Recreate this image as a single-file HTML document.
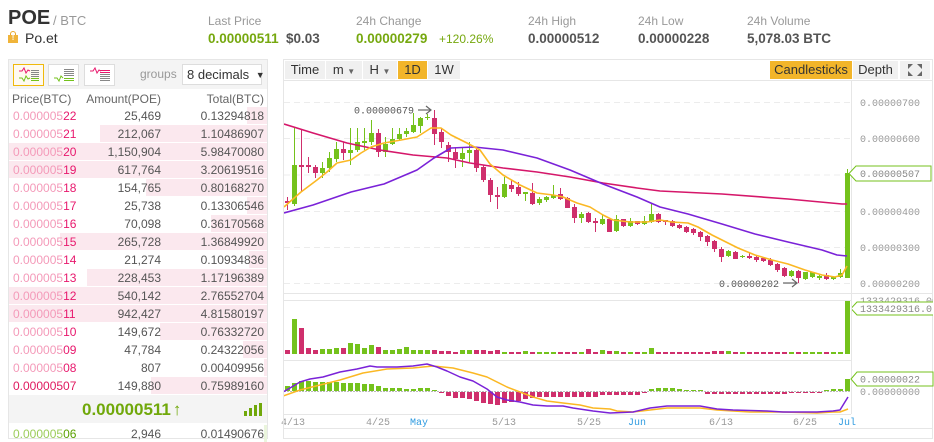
<!DOCTYPE html>
<html><head><meta charset="utf-8">
<style>
*{margin:0;padding:0;box-sizing:border-box}
body{width:934px;height:435px;overflow:hidden;background:#fff;font-family:"Liberation Sans",Arial,sans-serif;position:relative;color:#333}
.a{position:absolute;white-space:nowrap;line-height:1}
.lbl{font-size:12px;color:#999}
.val{font-size:13.5px;font-weight:bold;color:#555}
.gr{color:#76a80f}
.row{position:absolute;left:9px;width:258px;height:17px}
.row .bg{position:absolute;top:0;bottom:0;right:0;background:#fbe8ee}
.row span{position:absolute;top:3px;font-size:12px;line-height:1;white-space:nowrap}
.p{left:4px;color:#f49ab9}
.p b{font-weight:normal;color:#e8186d}
.am{right:106px;color:#555}
.tt{right:3px;color:#555}
.btn{position:absolute;top:61px;height:18px;line-height:18px;font-size:13px;text-align:center;background:#f0f0f0;color:#333}
.yl{background:#f2b52a}
</style></head><body>

<!-- header -->
<div class="a" style="left:8px;top:8px;font-size:20px;font-weight:bold;color:#333">POE</div>
<div class="a" style="left:53px;top:14px;font-size:13px;color:#999">/ BTC</div>
<div class="a" style="left:8px;top:31px;width:10px;height:12px">
  <div style="position:absolute;left:2px;top:0;width:6px;height:5px;border:1.5px solid #e9a82a;border-bottom:none;border-radius:3px 3px 0 0"></div>
  <div style="position:absolute;left:0;top:4px;width:10px;height:8px;background:#f0b43a;color:#fff;font-size:7px;font-weight:bold;text-align:center;line-height:8px">!</div>
</div>
<div class="a" style="left:25px;top:31px;font-size:14px;color:#333">Po.et</div>

<div class="a lbl" style="left:208px;top:15px">Last Price</div>
<div class="a val gr" style="left:208px;top:31.6px">0.00000511</div>
<div class="a val" style="left:286px;top:31.6px">$0.03</div>

<div class="a lbl" style="left:356px;top:15px">24h Change</div>
<div class="a val gr" style="left:356px;top:31.6px">0.00000279</div>
<div class="a gr" style="left:439px;top:32.8px;font-size:12px">+120.26%</div>

<div class="a lbl" style="left:528px;top:15px">24h High</div>
<div class="a val" style="left:528px;top:31.6px">0.00000512</div>
<div class="a lbl" style="left:638px;top:15px">24h Low</div>
<div class="a val" style="left:638px;top:31.6px">0.00000228</div>
<div class="a lbl" style="left:747px;top:15px">24h Volume</div>
<div class="a val" style="left:747px;top:31.6px">5,078.03 BTC</div>

<!-- left panel -->
<div style="position:absolute;left:8px;top:59px;width:260px;height:380px;border:1px solid #e6e6e6"></div>
<div style="position:absolute;left:9px;top:60px;width:258px;height:29px;background:#f4f4f4"></div>
<svg style="position:absolute;left:0;top:0" width="280" height="90">
  <rect x="13.5" y="64.5" width="30" height="21" fill="#fffaf0" stroke="#f0b90b"/>
  <rect x="48.5" y="64.5" width="30" height="21" fill="#fff" stroke="#ddd"/>
  <rect x="84.5" y="64.5" width="30" height="21" fill="#fff" stroke="#ddd"/>
  <g stroke-width="1">
    <polyline points="19,71 22,71 24,68 26,73 28,70 30,71" fill="none" stroke="#e8186d"/>
    <line x1="31" y1="70.5" x2="39" y2="70.5" stroke="#888"/><line x1="31" y1="72.5" x2="39" y2="72.5" stroke="#888"/>
    <line x1="31" y1="74.5" x2="39" y2="74.5" stroke="#888"/><line x1="31" y1="76.5" x2="39" y2="76.5" stroke="#888"/>
    <polyline points="19,78 22,78 24,81 26,76 28,79 30,78" fill="none" stroke="#74c21c"/>
    <line x1="31" y1="78.5" x2="39" y2="78.5" stroke="#74c21c"/><line x1="31" y1="80.5" x2="39" y2="80.5" stroke="#74c21c"/>

    <line x1="64" y1="69.5" x2="74" y2="69.5" stroke="#888"/><line x1="64" y1="71.5" x2="74" y2="71.5" stroke="#888"/>
    <line x1="64" y1="73.5" x2="74" y2="73.5" stroke="#888"/><line x1="64" y1="75.5" x2="74" y2="75.5" stroke="#888"/>
    <polyline points="54,78 57,78 59,81 61,76 63,78" fill="none" stroke="#74c21c"/>
    <line x1="64" y1="78.5" x2="74" y2="78.5" stroke="#74c21c"/><line x1="64" y1="80.5" x2="74" y2="80.5" stroke="#74c21c"/>

    <polyline points="90,71 93,71 95,68 97,73 99,70 101,71" fill="none" stroke="#e8186d"/>
    <line x1="100" y1="70.5" x2="110" y2="70.5" stroke="#e8186d"/><line x1="100" y1="72.5" x2="110" y2="72.5" stroke="#e8186d"/>
    <line x1="100" y1="74.5" x2="110" y2="74.5" stroke="#888"/><line x1="100" y1="76.5" x2="110" y2="76.5" stroke="#888"/>
    <line x1="100" y1="78.5" x2="110" y2="78.5" stroke="#888"/><line x1="100" y1="80.5" x2="110" y2="80.5" stroke="#888"/>
  </g>
</svg>
<div class="a" style="left:140px;top:68px;font-size:12px;color:#999">groups</div>
<div class="a" style="left:182px;top:64px;width:80px;height:21px;background:#fff;border:1px solid #ddd;font-size:13px;color:#333;line-height:19px;padding-left:4px">8 decimals <span style="font-size:9px;position:relative;top:-1px;margin-left:3px">▼</span></div>

<div class="a" style="left:12px;top:93px;font-size:12px;color:#666">Price(BTC)</div>
<div class="a" style="right:773px;top:93px;font-size:12px;color:#666">Amount(POE)</div>
<div class="a" style="right:670px;top:93px;font-size:12px;color:#666">Total(BTC)</div>

<div class="row" style="top:107px"><div class="bg" style="left:238px"></div><span class="p">0.000005<b>22</b></span><span class="am">25,469</span><span class="tt">0.13294818</span></div>
<div class="row" style="top:125px"><div class="bg" style="left:91px"></div><span class="p">0.000005<b>21</b></span><span class="am">212,067</span><span class="tt">1.10486907</span></div>
<div class="row" style="top:143px"><div class="bg" style="left:0"></div><span class="p">0.000005<b>20</b></span><span class="am">1,150,904</span><span class="tt">5.98470080</span></div>
<div class="row" style="top:161px"><div class="bg" style="left:0"></div><span class="p">0.000005<b>19</b></span><span class="am">617,764</span><span class="tt">3.20619516</span></div>
<div class="row" style="top:179px"><div class="bg" style="left:137px"></div><span class="p">0.000005<b>18</b></span><span class="am">154,765</span><span class="tt">0.80168270</span></div>
<div class="row" style="top:197px"><div class="bg" style="left:238px"></div><span class="p">0.000005<b>17</b></span><span class="am">25,738</span><span class="tt">0.13306546</span></div>
<div class="row" style="top:215px"><div class="bg" style="left:202px"></div><span class="p">0.000005<b>16</b></span><span class="am">70,098</span><span class="tt">0.36170568</span></div>
<div class="row" style="top:233px"><div class="bg" style="left:51px"></div><span class="p">0.000005<b>15</b></span><span class="am">265,728</span><span class="tt">1.36849920</span></div>
<div class="row" style="top:251px"><div class="bg" style="left:240px"></div><span class="p">0.000005<b>14</b></span><span class="am">21,274</span><span class="tt">0.10934836</span></div>
<div class="row" style="top:269px"><div class="bg" style="left:78px"></div><span class="p">0.000005<b>13</b></span><span class="am">228,453</span><span class="tt">1.17196389</span></div>
<div class="row" style="top:287px"><div class="bg" style="left:0"></div><span class="p">0.000005<b>12</b></span><span class="am">540,142</span><span class="tt">2.76552704</span></div>
<div class="row" style="top:305px"><div class="bg" style="left:0"></div><span class="p">0.000005<b>11</b></span><span class="am">942,427</span><span class="tt">4.81580197</span></div>
<div class="row" style="top:323px"><div class="bg" style="left:151px"></div><span class="p">0.000005<b>10</b></span><span class="am">149,672</span><span class="tt">0.76332720</span></div>
<div class="row" style="top:341px"><div class="bg" style="left:234px"></div><span class="p">0.000005<b>09</b></span><span class="am">47,784</span><span class="tt">0.24322056</span></div>
<div class="row" style="top:359px"><div class="bg" style="left:255px"></div><span class="p">0.000005<b>08</b></span><span class="am">807</span><span class="tt">0.00409956</span></div>
<div class="row" style="top:377px"><div class="bg" style="left:142px"></div><span class="p" style="color:#e0185f">0.00000507</span><span class="am">149,880</span><span class="tt">0.75989160</span></div>

<div style="position:absolute;left:9px;top:395px;width:258px;height:28px;background:#f4f4f4"></div>
<div class="a" style="left:82px;top:401px;font-size:17px;font-weight:bold;color:#70a80a">0.00000511<span style="font-weight:bold;margin-left:2px">↑</span></div>
<svg style="position:absolute;left:243px;top:402px" width="20" height="15">
  <rect x="1" y="9" width="3" height="5" fill="#70a80a"/><rect x="6" y="6" width="3" height="8" fill="#70a80a"/>
  <rect x="11" y="3" width="3" height="11" fill="#70a80a"/><rect x="16" y="1" width="3" height="13" fill="#70a80a"/>
</svg>
<div class="row" style="top:425px"><div class="bg" style="left:255px;background:#eaf5dc"></div><span class="p" style="color:#9ccc5a">0.000005<b style="color:#5aa000">06</b></span><span class="am">2,946</span><span class="tt">0.01490676</span></div>

<!-- chart toolbar -->
<div style="position:absolute;left:283px;top:59px;width:650px;height:380px;border:1px solid #e6e6e6"></div>
<div style="position:absolute;left:284px;top:80px;width:648px;height:1px;background:#e6e6e6"></div>
<div class="btn" style="left:285px;width:40px">Time</div>
<div class="btn" style="left:326px;width:36px">m <span style="font-size:8px;color:#666">▼</span></div>
<div class="btn" style="left:363px;width:34px">H <span style="font-size:8px;color:#666">▼</span></div>
<div class="btn yl" style="left:398px;width:29px">1D</div>
<div class="btn" style="left:428px;width:32px">1W</div>
<div class="btn yl" style="left:770px;width:82px">Candlesticks</div>
<div class="btn" style="left:853px;width:45px">Depth</div>
<div class="btn" style="left:900px;width:30px"></div>
<svg style="position:absolute;left:906px;top:63px" width="18" height="14">
  <g fill="#666"><polygon points="2,1 7,1 2,6"/><polygon points="16,1 11,1 16,6"/><polygon points="2,13 7,13 2,8"/><polygon points="16,13 11,13 16,8"/></g>
</svg>

<!-- chart -->
<svg id="ch" style="position:absolute;left:0;top:0" width="934" height="435" font-family="Liberation Mono, monospace" font-size="10">
  <defs>
    <clipPath id="cl"><rect x="284" y="81" width="567" height="213"/></clipPath>
    <clipPath id="cr"><rect x="852" y="295" width="81" height="140"/></clipPath>
    <clipPath id="cm"><rect x="284" y="361" width="567" height="53"/></clipPath>
  </defs>
  <g stroke="#ececec" stroke-dasharray="6,4">
    <line x1="284" y1="102.5" x2="851" y2="102.5"/>
    <line x1="284" y1="138.5" x2="851" y2="138.5"/>
    <line x1="284" y1="175" x2="851" y2="175"/>
    <line x1="284" y1="211.5" x2="851" y2="211.5"/>
    <line x1="284" y1="247.5" x2="851" y2="247.5"/>
    <line x1="284" y1="283.5" x2="851" y2="283.5"/>
  </g>
  <g stroke="#e6e6e6">
    <line x1="851.5" y1="81" x2="851.5" y2="414"/>
    <line x1="284" y1="293.5" x2="933" y2="293.5"/>
    <line x1="284" y1="300.5" x2="851" y2="300.5"/>
    <line x1="284" y1="360.5" x2="851" y2="360.5"/>
    <line x1="284" y1="414.5" x2="851" y2="414.5"/>
    <line x1="284" y1="428.5" x2="933" y2="428.5"/>
  </g>
  <g fill="#999">
    <text x="860" y="106">0.00000700</text>
    <text x="860" y="142">0.00000600</text>
    <text x="860" y="215">0.00000400</text>
    <text x="860" y="251">0.00000300</text>
    <text x="860" y="287">0.00000200</text>
  </g>
  <g id="cg" clip-path="url(#cl)"></g>
  <g clip-path="url(#cl)" fill="none" stroke-width="1.6" stroke-linejoin="round">
    <polyline stroke="#d5176a" points="284,124 313,133 347,143 380,150 413,155 447,158 470,163 503,168 537,172 570,177 603,183 637,188 660,191 722,194 788,199 842,204 847,204"/>
    <polyline stroke="#7a22d8" points="284,213 313,205 351,192 384,184 417,170 434,158 451,148 474,147 503,150 537,158 570,170 603,184 637,197 660,207 688,214 722,224 755,234 788,242 822,250 837,255 847,256"/>
    <polyline stroke="#fbb824" points="284,207 301,192 317,180 327,172 337,163 351,160 361,153 371,147 384,143 401,140 417,137 431,128 441,128 451,135 467,143 480,150 490,164 503,175 520,185 537,193 553,195 563,197 577,203 590,207 603,215 613,220 630,222 647,222 660,220 672,222 688,223 698,227 712,235 722,240 738,248 755,255 772,260 788,264 805,270 822,275 835,277 842,275 847,266"/>
  </g>
  <text x="354" y="113.5" fill="#555">0.00000679</text>
  <g stroke="#666" fill="none" stroke-width="1.2"><line x1="418" y1="110" x2="431" y2="110"/><polyline points="426,106 431,110 426,114"/></g>
  <text x="719" y="287" fill="#555">0.00000202</text>
  <g stroke="#666" fill="none" stroke-width="1.2"><line x1="783" y1="283" x2="797" y2="283"/><polyline points="792,279 797,283 792,287"/></g>
  <path d="M849,173.5 L856,166 H931 V181 H856 Z" fill="#fff" stroke="#74c21c"/>
  <text x="860" y="177" fill="#888">0.00000507</text>

  <g id="vg"></g>
  <g clip-path="url(#cr)">
    <text x="860" y="304" fill="#999">1333429316.00</text>
    <path d="M851,308.5 L857,302 H940 V315 H857 Z" fill="#fff" stroke="#74c21c"/>
    <text x="860" y="312" fill="#888">1333429316.0</text>
  </g>

  <line x1="284" y1="391.5" x2="851" y2="391.5" stroke="#777" stroke-width="0.6" stroke-dasharray="2,1"/>
  <g id="mg"></g>
  <g clip-path="url(#cm)" fill="none" stroke-width="1.5" stroke-linejoin="round">
    <polyline stroke="#fbb824" points="283,396 300,390 320,385 340,380 363,373 387,369 413,368 433,366 453,368 473,373 487,377 507,387 520,392 533,397 547,401 563,403 580,405 593,408 610,409 617,411 633,412 650,410 667,408 700,408 717,410 733,411 750,412 783,412 817,413 833,412 840,412 848,409"/>
    <polyline stroke="#7a22d8" points="283,392 290,388 300,382 310,379 323,377 340,372 357,369 370,366 377,367 397,367 413,366 427,364 437,367 447,371 460,377 473,381 487,389 497,397 507,400 520,402 533,405 547,406 563,406 573,408 593,411 610,413 633,412 650,408 667,406 700,406 717,409 733,410 767,411 783,412 817,412 833,411 840,410 848,397"/>
  </g>
  <path d="M851,379 L857,372 H933 V386 H857 Z" fill="#fff" stroke="#74c21c"/>
  <text x="860" y="382.5" fill="#888">0.00000022</text>
  <text x="860" y="395" fill="#999">0.00000000</text>

  <g fill="#999">
    <text x="281" y="425">4/13</text>
    <text x="366" y="425">4/25</text>
    <text x="492" y="425">5/13</text>
    <text x="577" y="425">5/25</text>
    <text x="709" y="425">6/13</text>
    <text x="793" y="425">6/25</text>
  </g>
  <g fill="#2f9be0">
    <text x="410" y="425">May</text>
    <text x="628" y="425">Jun</text>
    <text x="838" y="425">Jul</text>
  </g>
  <rect x="283" y="415" width="1" height="14" fill="#e6e6e6"/>
</svg>

<script>
(function(){
var G='#74c21c',R='#cf2f6c';
var C=[[201,203,197,210,0],[165,204,128,206,1],[165,167,130,192,0],[165,167,157,173,0],[167,173,165,178,0],[168,173,162,178,1],[158,168,152,172,1],[149,159,142,162,1],[149,153,142,160,0],[150,153,128,165,1],
[142,150,128,152,1],[141,143,128,150,1],[133,142,120,145,1],[133,152,129,157,0],[144,152,137,157,1],[139,144,128,145,1],[134,139,128,141,1],[131,134,128,137,1],[125,132,113,133,1],[118,126,117,133,1],
[117,118,114,120,1],[118,134,110,145,0],[132,142,128,148,0],[145,152,142,162,0],[152,159,148,168,0],[153,159,148,167,1],[150,153,142,162,1],[150,168,147,172,0],[167,180,165,182,0],[180,195,178,202,0],
[195,197,187,209,0],[184,197,177,198,1],[185,189,180,192,0],[187,194,182,196,0],[192,194,192,201,1],[193,204,183,205,0],[199,203,197,205,1],[197,200,196,202,1],[195,198,185,199,1],[194,199,188,200,0],
[198,208,197,208,0],[207,218,204,223,0],[214,218,212,223,1],[213,222,212,223,0],[221,223,218,232,0],[219,224,214,225,1],[219,232,219,232,0],[219,231,215,232,1],[219,226,219,227,0],[221,226,218,227,1],
[221,224,221,225,0],[221,224,216,225,1],[214,222,203,223,1],[214,222,213,223,0],[220,222,220,225,0],[221,226,220,227,0],[225,228,224,229,0],[227,232,226,233,0],[229,233,228,235,0],[232,237,231,241,0],
[236,242,235,246,0],[241,249,240,252,0],[249,257,247,262,0],[251,256,250,257,1],[252,259,251,259,0],[256,257,255,258,1],[256,258,252,259,0],[257,260,256,262,0],[258,261,257,262,0],[260,265,258,266,0],
[264,270,263,272,0],[268,276,267,277,0],[271,276,270,277,1],[271,278,270,283,0],[272,279,272,280,1],[272,277,272,278,1],[276,278,275,280,1],[275,279,273,280,0],[277,279,276,280,1],[273,277,269,278,1],
[173,278,169,278,1]];
var V=[350,319,328,348,350,349,349,348,348,343,344,348,345,347,350,350,349,347,350,350,350,350,351,351,352,350,350,350,350,351,350];
while(V.length<81)V.push(352);
V[34]=351;V[43]=349;V[45]=350;V[46]=351;V[47]=351;V[52]=348;V[61]=351;V[62]=351;V[63]=351;V[80]=301;
var H=[386,383,381,381,382,382,382,382,383,383,383,384,384,386,388,388,388,389,389,388,388,390,
392,395,397,397,398,400,402,403,404,402,401,400,398,397,
396,396,396,396,396,396,396,396,396,
394,394,394,394,394,394,392,
389,388,388,388,389,390,390,390];
while(H.length<77)H.push(H.length<72?393:392);
H.push(390,389,389,379);
var s='',v='',m='';
for(var i=0;i<C.length;i++){
 var c=C[i],x=287+i*7,col=c[4]?G:R;
 s+='<rect x="'+x+'" y="'+c[2]+'" width="1" height="'+Math.max(1,c[3]-c[2])+'" fill="'+col+'"/>';
 s+='<rect x="'+(x-2)+'" y="'+c[0]+'" width="5" height="'+Math.max(1,c[1]-c[0])+'" fill="'+col+'"/>';
 v+='<rect x="'+(x-2)+'" y="'+V[i]+'" width="5" height="'+(354-V[i])+'" fill="'+col+'"/>';
 var h=H[i];
 if(h<391) m+='<rect x="'+(x-2)+'" y="'+h+'" width="5" height="'+(391-h)+'" fill="'+G+'"/>';
 else m+='<rect x="'+(x-2)+'" y="392" width="5" height="'+Math.max(1,h-391)+'" fill="'+R+'"/>';
}
document.getElementById('cg').innerHTML=s;
document.getElementById('vg').innerHTML=v;
document.getElementById('mg').innerHTML=m;
})();
</script>
</body></html>
